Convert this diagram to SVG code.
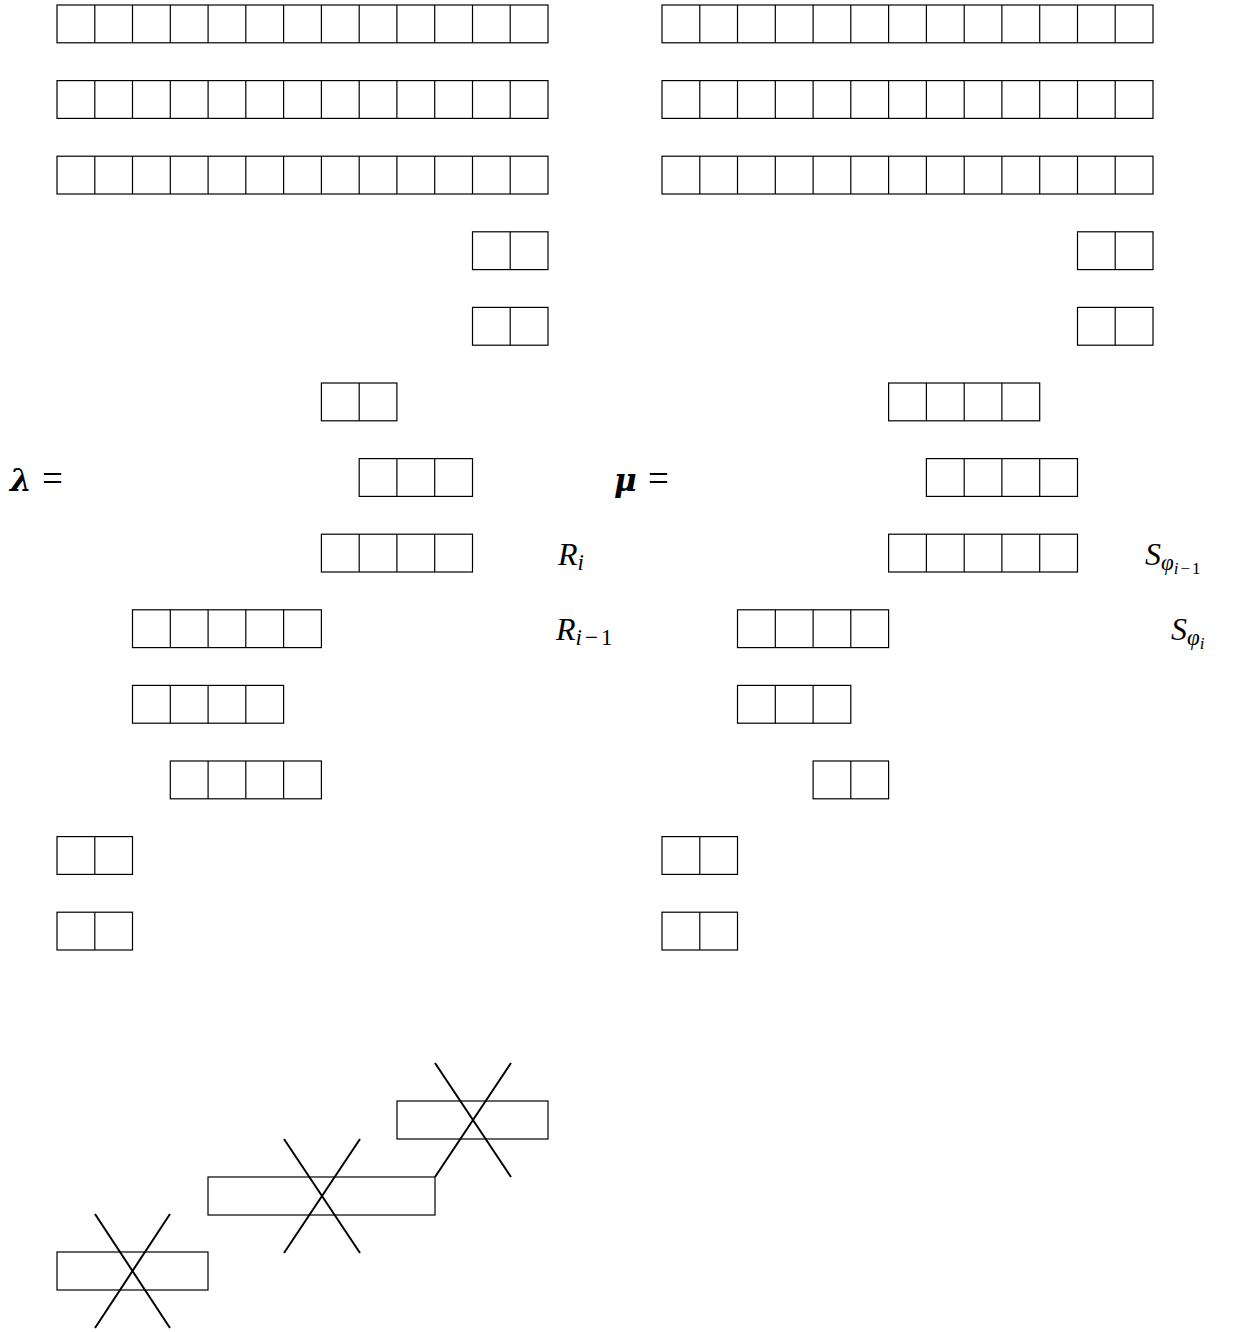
<svg xmlns="http://www.w3.org/2000/svg" width="1234" height="1332" viewBox="0 0 1234 1332">
<defs>
<style>
.c{fill:none;stroke:#000;stroke-width:1.2}
.x{stroke:#000;stroke-width:2;fill:none}
.t{font-family:"Liberation Serif","DejaVu Serif",serif;font-style:italic;font-size:32px;fill:#000}
.s{font-size:23px}
.ss{font-size:17px}
.n{font-style:normal}
.b{font-family:"DejaVu Serif","Liberation Serif",serif;font-weight:bold;font-style:italic;font-size:31px}
.eq{font-family:"Liberation Serif",serif;font-style:normal;font-weight:normal;font-size:37px}
</style>
</defs>
<g id="lambda-diagram">
<g id="l-row0"><rect class="c" x="57" y="5" width="491" height="37.8"/><path class="c" d="M94.8 5v37.8M132.5 5v37.8M170.3 5v37.8M208.1 5v37.8M245.8 5v37.8M283.6 5v37.8M321.4 5v37.8M359.2 5v37.8M396.9 5v37.8M434.7 5v37.8M472.5 5v37.8M510.2 5v37.8"/></g>
<g id="l-row1"><rect class="c" x="57" y="80.6" width="491" height="37.8"/><path class="c" d="M94.8 80.6v37.8M132.5 80.6v37.8M170.3 80.6v37.8M208.1 80.6v37.8M245.8 80.6v37.8M283.6 80.6v37.8M321.4 80.6v37.8M359.2 80.6v37.8M396.9 80.6v37.8M434.7 80.6v37.8M472.5 80.6v37.8M510.2 80.6v37.8"/></g>
<g id="l-row2"><rect class="c" x="57" y="156.2" width="491" height="37.8"/><path class="c" d="M94.8 156.2v37.8M132.5 156.2v37.8M170.3 156.2v37.8M208.1 156.2v37.8M245.8 156.2v37.8M283.6 156.2v37.8M321.4 156.2v37.8M359.2 156.2v37.8M396.9 156.2v37.8M434.7 156.2v37.8M472.5 156.2v37.8M510.2 156.2v37.8"/></g>
<g id="l-row3"><rect class="c" x="472.5" y="231.8" width="75.5" height="37.8"/><path class="c" d="M510.2 231.8v37.8"/></g>
<g id="l-row4"><rect class="c" x="472.5" y="307.4" width="75.5" height="37.8"/><path class="c" d="M510.2 307.4v37.8"/></g>
<g id="l-row5"><rect class="c" x="321.4" y="383" width="75.5" height="37.8"/><path class="c" d="M359.2 383v37.8"/></g>
<g id="l-row6"><rect class="c" x="359.2" y="458.6" width="113.3" height="37.8"/><path class="c" d="M396.9 458.6v37.8M434.7 458.6v37.8"/></g>
<g id="l-row7"><rect class="c" x="321.4" y="534.2" width="151.1" height="37.8"/><path class="c" d="M359.2 534.2v37.8M396.9 534.2v37.8M434.7 534.2v37.8"/></g>
<g id="l-row8"><rect class="c" x="132.5" y="609.8" width="188.9" height="37.8"/><path class="c" d="M170.3 609.8v37.8M208.1 609.8v37.8M245.8 609.8v37.8M283.6 609.8v37.8"/></g>
<g id="l-row9"><rect class="c" x="132.5" y="685.4" width="151.1" height="37.8"/><path class="c" d="M170.3 685.4v37.8M208.1 685.4v37.8M245.8 685.4v37.8"/></g>
<g id="l-row10"><rect class="c" x="170.3" y="761" width="151.1" height="37.8"/><path class="c" d="M208.1 761v37.8M245.8 761v37.8M283.6 761v37.8"/></g>
<g id="l-row11"><rect class="c" x="57" y="836.6" width="75.5" height="37.8"/><path class="c" d="M94.8 836.6v37.8"/></g>
<g id="l-row12"><rect class="c" x="57" y="912.2" width="75.5" height="37.8"/><path class="c" d="M94.8 912.2v37.8"/></g>
</g>
<g id="mu-diagram">
<g id="m-row0"><rect class="c" x="662" y="5" width="491" height="37.8"/><path class="c" d="M699.8 5v37.8M737.5 5v37.8M775.3 5v37.8M813.1 5v37.8M850.8 5v37.8M888.6 5v37.8M926.4 5v37.8M964.2 5v37.8M1001.9 5v37.8M1039.7 5v37.8M1077.5 5v37.8M1115.2 5v37.8"/></g>
<g id="m-row1"><rect class="c" x="662" y="80.6" width="491" height="37.8"/><path class="c" d="M699.8 80.6v37.8M737.5 80.6v37.8M775.3 80.6v37.8M813.1 80.6v37.8M850.8 80.6v37.8M888.6 80.6v37.8M926.4 80.6v37.8M964.2 80.6v37.8M1001.9 80.6v37.8M1039.7 80.6v37.8M1077.5 80.6v37.8M1115.2 80.6v37.8"/></g>
<g id="m-row2"><rect class="c" x="662" y="156.2" width="491" height="37.8"/><path class="c" d="M699.8 156.2v37.8M737.5 156.2v37.8M775.3 156.2v37.8M813.1 156.2v37.8M850.8 156.2v37.8M888.6 156.2v37.8M926.4 156.2v37.8M964.2 156.2v37.8M1001.9 156.2v37.8M1039.7 156.2v37.8M1077.5 156.2v37.8M1115.2 156.2v37.8"/></g>
<g id="m-row3"><rect class="c" x="1077.5" y="231.8" width="75.5" height="37.8"/><path class="c" d="M1115.2 231.8v37.8"/></g>
<g id="m-row4"><rect class="c" x="1077.5" y="307.4" width="75.5" height="37.8"/><path class="c" d="M1115.2 307.4v37.8"/></g>
<g id="m-row5"><rect class="c" x="888.6" y="383" width="151.1" height="37.8"/><path class="c" d="M926.4 383v37.8M964.2 383v37.8M1001.9 383v37.8"/></g>
<g id="m-row6"><rect class="c" x="926.4" y="458.6" width="151.1" height="37.8"/><path class="c" d="M964.2 458.6v37.8M1001.9 458.6v37.8M1039.7 458.6v37.8"/></g>
<g id="m-row7"><rect class="c" x="888.6" y="534.2" width="188.9" height="37.8"/><path class="c" d="M926.4 534.2v37.8M964.2 534.2v37.8M1001.9 534.2v37.8M1039.7 534.2v37.8"/></g>
<g id="m-row8"><rect class="c" x="737.5" y="609.8" width="151.1" height="37.8"/><path class="c" d="M775.3 609.8v37.8M813.1 609.8v37.8M850.8 609.8v37.8"/></g>
<g id="m-row9"><rect class="c" x="737.5" y="685.4" width="113.3" height="37.8"/><path class="c" d="M775.3 685.4v37.8M813.1 685.4v37.8"/></g>
<g id="m-row10"><rect class="c" x="813.1" y="761" width="75.5" height="37.8"/><path class="c" d="M850.8 761v37.8"/></g>
<g id="m-row11"><rect class="c" x="662" y="836.6" width="75.5" height="37.8"/><path class="c" d="M699.8 836.6v37.8"/></g>
<g id="m-row12"><rect class="c" x="662" y="912.2" width="75.5" height="37.8"/><path class="c" d="M699.8 912.2v37.8"/></g>
</g>
<g id="labels">
<text x="10" y="491"><tspan class="b">λ</tspan><tspan class="eq" x="42">=</tspan></text>
<text x="614" y="491"><tspan class="b">μ</tspan><tspan class="eq" x="648">=</tspan></text>
<text class="t" x="558" y="565">R<tspan class="s" dy="5">i</tspan></text>
<text class="t" x="556" y="640">R<tspan class="s" dy="5">i</tspan><tspan class="s n" dx="3">−</tspan><tspan class="s n" dx="3">1</tspan></text>
<text class="t" x="1145" y="565">S<tspan class="s" dy="5">φ</tspan><tspan class="ss" dy="4">i</tspan><tspan class="ss n" dx="2">−</tspan><tspan class="ss n" dx="2">1</tspan></text>
<text class="t" x="1171" y="640">S<tspan class="s" dy="5">φ</tspan><tspan class="ss" dy="4">i</tspan></text>
</g>
<g id="strips">
<rect id="strip1" class="c" x="57" y="1252" width="151" height="38"/>
<rect id="strip2" class="c" x="208" y="1177" width="227" height="38"/>
<rect id="strip3" class="c" x="397" y="1101" width="151" height="38"/>
</g>
<g id="connectors">
<path class="x" d="M95 1214L170 1328M170 1214L95 1328"/>
<path class="x" d="M284 1139L360 1253M360 1139L284 1253"/>
<path class="x" d="M435 1063L511 1177M511 1063L435 1177"/>
</g>
</svg>
